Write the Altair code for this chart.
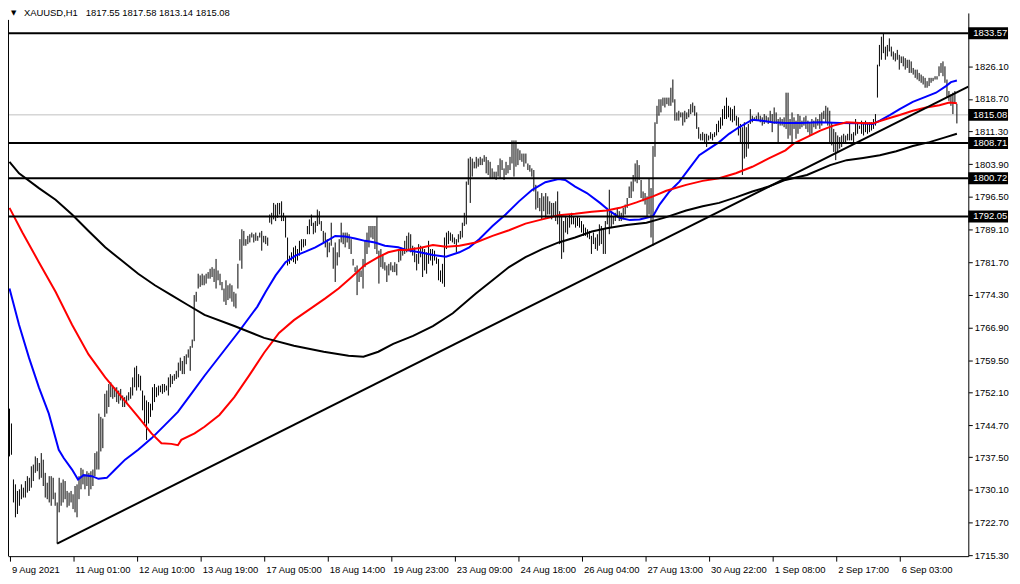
import altair as alt
import pandas as pd

# ---------------- data ----------------
high_seg1 = [1748.50, 1745.14, 1732.46, 1731.34, 1729.85, 1730.22, 1731.34, 1730.59, 1732.09, 1733.20,
             1732.83, 1735.44, 1735.82, 1737.68, 1737.31, 1736.19, 1738.43, 1736.93, 1733.95, 1731.71,
             1733.20, 1733.20, 1732.83, 1729.47, 1727.24, 1732.83, 1731.71, 1732.46, 1732.09, 1729.85,
             1729.47, 1729.85, 1729.10, 1730.97, 1731.34, 1733.20, 1735.07, 1734.70, 1733.58, 1734.32,
             1733.95, 1734.32, 1734.70, 1738.43, 1738.80, 1747.38, 1746.63, 1746.26, 1751.86, 1752.60,
             1754.09, 1754.47, 1753.72, 1753.35, 1753.35, 1752.60, 1752.97, 1751.48, 1751.11, 1751.48,
             1752.23, 1753.35, 1755.58, 1757.82, 1758.20, 1756.33, 1755.96, 1752.60, 1751.48, 1750.36,
             1749.99, 1749.62, 1753.35, 1754.09, 1753.35, 1753.72, 1753.72, 1754.09, 1754.09, 1753.72,
             1755.58, 1756.33, 1755.96, 1756.33, 1757.08, 1758.94, 1760.06, 1759.31, 1760.43, 1760.81,
             1761.93, 1762.67, 1764.16, 1774.24, 1774.98, 1779.08, 1778.71, 1779.08]
low_seg1 = [1737.68, 1738.05, 1727.24, 1723.88, 1724.62, 1726.49, 1727.98, 1728.35, 1728.35, 1729.47,
            1729.85, 1730.59, 1732.09, 1733.95, 1734.32, 1732.46, 1732.83, 1730.97, 1728.35, 1727.98,
            1727.24, 1726.49, 1727.98, 1726.49, 1717.91, 1725.00, 1726.49, 1727.24, 1727.98, 1726.12,
            1726.49, 1727.24, 1725.74, 1725.00, 1723.88, 1727.98, 1730.22, 1731.34, 1730.22, 1730.97,
            1728.73, 1730.22, 1730.97, 1733.20, 1734.70, 1734.70, 1738.80, 1739.55, 1746.63, 1747.38,
            1748.87, 1751.11, 1750.74, 1751.11, 1749.99, 1749.62, 1750.36, 1748.87, 1748.87, 1749.62,
            1750.36, 1750.74, 1751.48, 1753.35, 1752.60, 1753.35, 1752.60, 1748.12, 1745.14, 1741.41,
            1745.14, 1746.63, 1748.12, 1749.99, 1751.11, 1751.48, 1752.23, 1751.86, 1752.23, 1752.60,
            1751.48, 1753.35, 1754.09, 1754.84, 1755.21, 1755.58, 1757.08, 1756.33, 1756.33, 1758.57,
            1760.06, 1757.08, 1762.30, 1763.79, 1772.74, 1775.73, 1776.10, 1776.47]

high_seg2 = [1778.70, 1779.08, 1779.45, 1780.20, 1780.57, 1780.20, 1782.43, 1779.82, 1779.08, 1777.21,
             1775.72, 1777.59, 1776.47, 1776.84, 1776.47, 1774.97, 1774.60, 1781.32, 1786.91, 1789.15,
             1788.78, 1786.91, 1787.66, 1788.03, 1788.40, 1788.03, 1788.40, 1787.66, 1788.40, 1788.78,
             1787.66, 1787.66, 1787.28, 1792.50, 1792.88, 1795.12, 1794.74, 1795.12, 1795.12, 1795.49,
             1792.88, 1792.13, 1787.28, 1783.18, 1783.93, 1785.05, 1785.42, 1784.67, 1786.54, 1786.91,
             1786.91, 1786.91, 1789.89, 1791.39, 1792.50, 1790.64, 1791.01, 1793.62, 1793.25, 1791.01,
             1788.78, 1788.40, 1786.91, 1786.16, 1790.64, 1785.05, 1786.16, 1783.93, 1786.91, 1790.64,
             1788.40, 1788.40, 1788.40, 1788.03, 1786.91, 1782.43, 1780.57, 1780.94, 1779.82, 1779.82,
             1782.43, 1786.54, 1788.40, 1789.89, 1789.89, 1789.89, 1789.89, 1792.13, 1784.30, 1784.67,
             1783.55, 1781.69, 1780.94, 1781.32, 1781.69, 1780.94, 1781.69, 1781.32]
low_seg2 = [1776.47, 1776.84, 1777.96, 1777.96, 1778.33, 1777.21, 1775.72, 1777.59, 1776.47, 1775.35,
            1772.74, 1771.99, 1773.11, 1773.48, 1772.74, 1771.62, 1771.24, 1775.72, 1782.06, 1780.20,
            1785.42, 1785.42, 1785.79, 1786.16, 1787.28, 1786.16, 1786.54, 1786.54, 1787.28, 1784.30,
            1786.16, 1785.79, 1785.42, 1790.64, 1790.27, 1791.39, 1791.01, 1791.76, 1792.50, 1791.01,
            1791.01, 1787.28, 1780.94, 1781.32, 1782.06, 1781.69, 1781.32, 1782.06, 1783.18, 1784.30,
            1785.05, 1785.42, 1788.03, 1788.03, 1789.89, 1788.03, 1788.40, 1789.89, 1790.27, 1788.78,
            1786.16, 1785.05, 1782.81, 1783.93, 1785.42, 1780.20, 1777.21, 1780.94, 1782.81, 1786.16,
            1785.79, 1785.05, 1786.16, 1784.67, 1783.55, 1780.94, 1779.45, 1774.23, 1777.21, 1778.33,
            1775.72, 1780.57, 1783.55, 1785.05, 1787.28, 1786.91, 1784.67, 1783.55, 1776.84, 1780.57,
            1780.20, 1779.82, 1777.21, 1778.70, 1779.82, 1779.45, 1779.45, 1778.70]

high_seg3 = [1784.30, 1785.05, 1784.67, 1786.54, 1787.66, 1788.41, 1788.03, 1785.42, 1785.05, 1783.56,
             1785.79, 1785.42, 1785.05, 1784.67, 1783.93, 1786.54, 1784.67, 1784.67, 1784.30, 1782.81,
             1782.44, 1779.83, 1781.32, 1787.29, 1788.41, 1788.78, 1788.41, 1788.03, 1787.29, 1786.91,
             1788.03, 1788.78, 1790.64, 1792.88, 1799.97, 1805.19, 1805.56, 1805.19, 1804.44, 1805.56,
             1805.19, 1805.56, 1805.19, 1805.94, 1805.56, 1804.82, 1804.44, 1802.95, 1802.21, 1802.21,
             1803.70, 1805.19, 1804.82, 1802.95, 1804.44, 1803.70, 1805.56, 1809.29, 1809.29, 1809.29,
             1807.43, 1807.06, 1806.31, 1806.31, 1806.31, 1804.07, 1803.70, 1802.95, 1802.58, 1799.22,
             1797.73, 1796.24, 1797.36, 1796.61, 1797.36, 1796.61, 1795.49, 1795.12, 1795.12, 1795.49,
             1797.73, 1793.25, 1792.51, 1791.02, 1792.14, 1791.76, 1792.51, 1792.88, 1792.14, 1791.76,
             1792.14, 1791.76, 1791.02, 1790.27, 1789.52, 1789.15, 1788.78, 1787.66]
low_seg3 = [1781.69, 1782.06, 1783.18, 1783.56, 1783.93, 1784.67, 1783.93, 1783.18, 1781.69, 1779.83,
            1781.32, 1782.81, 1778.33, 1779.83, 1779.08, 1781.32, 1782.06, 1780.95, 1782.06, 1781.32,
            1777.59, 1777.22, 1776.84, 1776.10, 1784.67, 1785.79, 1786.54, 1786.17, 1785.79, 1783.93,
            1786.17, 1786.91, 1787.29, 1789.90, 1790.27, 1799.22, 1795.12, 1801.09, 1802.95, 1802.95,
            1803.33, 1803.70, 1803.70, 1804.44, 1801.83, 1801.46, 1800.71, 1800.71, 1800.71, 1800.34,
            1801.09, 1800.71, 1802.58, 1800.34, 1801.46, 1801.83, 1802.58, 1804.07, 1801.09, 1803.33,
            1803.70, 1804.82, 1804.44, 1803.33, 1804.07, 1802.58, 1802.21, 1801.09, 1797.73, 1793.63,
            1794.00, 1793.25, 1791.39, 1793.25, 1791.76, 1792.51, 1792.51, 1791.39, 1792.14, 1791.02,
            1790.27, 1785.79, 1782.44, 1783.93, 1788.41, 1788.03, 1789.52, 1790.27, 1790.27, 1789.52,
            1789.90, 1789.52, 1788.41, 1787.66, 1787.66, 1787.29, 1786.91, 1783.56]

high_seg4 = [1788.41, 1787.29, 1788.03, 1790.27, 1789.90, 1789.15, 1791.02, 1794.00, 1798.11, 1793.26,
             1792.14, 1792.88, 1794.00, 1793.26, 1792.88, 1794.00, 1794.75, 1796.24, 1798.85, 1799.97,
             1801.46, 1804.07, 1804.82, 1803.70, 1800.34, 1797.73, 1797.36, 1796.61, 1800.72, 1798.48,
             1808.00, 1813.40, 1817.13, 1818.62, 1818.62, 1818.99, 1818.99, 1818.99, 1818.99, 1821.23,
             1823.10, 1818.62, 1815.64, 1816.01, 1815.64, 1815.64, 1816.01, 1815.64, 1816.38, 1817.50,
             1817.87, 1817.13, 1815.64, 1812.28, 1810.79, 1811.16, 1810.79, 1810.79, 1810.41, 1811.16,
             1810.79, 1811.16, 1813.03, 1813.77, 1814.52, 1816.38, 1817.13, 1818.99, 1817.13, 1816.76,
             1816.38, 1817.13, 1814.89, 1814.52, 1813.03, 1812.28, 1813.40, 1812.28, 1813.03, 1816.38,
             1814.89, 1814.52, 1814.89, 1815.64, 1814.89, 1814.52, 1815.26, 1814.89, 1814.52, 1816.01,
             1815.26, 1816.76, 1815.64, 1814.14, 1814.52, 1814.14, 1814.52]
low_seg4 = [1785.80, 1784.68, 1784.30, 1785.42, 1785.80, 1783.56, 1783.56, 1790.27, 1788.03, 1789.53,
            1790.27, 1791.02, 1791.76, 1791.02, 1791.02, 1791.39, 1792.51, 1794.00, 1796.24, 1796.24,
            1797.73, 1799.97, 1799.60, 1800.34, 1796.24, 1795.49, 1794.75, 1792.14, 1792.51, 1787.29,
            1785.42, 1805.57, 1813.03, 1814.89, 1815.64, 1817.13, 1816.76, 1817.50, 1817.13, 1817.13,
            1817.87, 1813.77, 1813.77, 1813.77, 1814.52, 1812.65, 1813.40, 1814.14, 1814.52, 1815.26,
            1815.64, 1814.89, 1811.91, 1809.67, 1809.29, 1809.29, 1808.55, 1807.80, 1809.29, 1809.67,
            1809.29, 1810.04, 1810.41, 1811.16, 1811.91, 1812.65, 1814.14, 1814.14, 1814.52, 1813.77,
            1813.40, 1813.77, 1812.65, 1810.41, 1808.92, 1801.46, 1805.19, 1805.57, 1807.43, 1813.03,
            1813.40, 1813.77, 1813.77, 1813.77, 1813.40, 1812.65, 1813.03, 1813.40, 1813.03, 1813.40,
            1811.16, 1813.03, 1813.03, 1808.92, 1812.65, 1812.65, 1812.28]

high_seg5 = [1820.11, 1820.11, 1814.14, 1815.63, 1814.52, 1813.77, 1815.26, 1814.89, 1813.77, 1814.52,
             1814.89, 1813.77, 1813.40, 1814.14, 1813.77, 1814.52, 1814.14, 1815.26, 1815.63, 1816.01,
             1817.13, 1816.75, 1816.01, 1813.40, 1811.90, 1811.16, 1810.41, 1810.04, 1810.41, 1810.79,
             1810.41, 1810.79, 1813.40, 1810.79, 1811.16, 1814.14, 1813.40, 1812.65, 1813.77, 1813.40,
             1813.77, 1813.02, 1813.40, 1813.40, 1814.14, 1815.26, 1826.45, 1830.93, 1832.79, 1833.57,
             1830.55, 1830.93, 1832.42, 1830.55, 1829.44, 1829.06, 1829.81, 1828.69, 1828.32, 1828.32,
             1827.94, 1827.57, 1827.57, 1827.20, 1825.71, 1825.33, 1825.33, 1824.59, 1824.21, 1823.84,
             1823.47, 1822.72, 1823.47, 1823.47, 1823.47, 1823.84, 1823.84, 1826.08, 1826.82, 1827.20,
             1826.08, 1823.09, 1820.48, 1819.74, 1820.11, 1820.48, 1817.58]
low_seg5 = [1811.90, 1809.67, 1810.41, 1808.55, 1811.90, 1809.67, 1810.79, 1811.90, 1812.28, 1812.65,
            1811.90, 1811.16, 1810.41, 1810.79, 1812.28, 1811.90, 1812.65, 1811.90, 1812.65, 1814.14,
            1813.40, 1812.65, 1808.92, 1808.17, 1806.68, 1804.82, 1806.68, 1807.43, 1807.80, 1808.55,
            1808.92, 1809.29, 1809.29, 1809.29, 1808.92, 1810.41, 1810.79, 1811.90, 1810.79, 1810.41,
            1811.16, 1810.79, 1811.16, 1811.53, 1811.90, 1812.65, 1819.00, 1826.08, 1827.57, 1829.06,
            1827.57, 1828.32, 1829.44, 1828.32, 1827.57, 1827.20, 1827.57, 1825.33, 1826.82, 1826.08,
            1825.33, 1825.71, 1824.59, 1824.59, 1824.21, 1823.47, 1823.09, 1822.72, 1822.35, 1821.97,
            1821.23, 1821.23, 1821.60, 1822.35, 1822.72, 1823.09, 1823.09, 1823.84, 1824.59, 1823.84,
            1822.35, 1819.00, 1818.25, 1817.13, 1815.26, 1817.87, 1813.14]

bar_high = high_seg1 + high_seg2 + high_seg3 + high_seg4 + high_seg5
bar_low = low_seg1 + low_seg2 + low_seg3 + low_seg4 + low_seg5

blue_i = [0, 4.8, 9.8, 14.8, 19.8, 24.8, 27.3, 31.5, 34.5, 37.3, 41.5, 44.8, 49, 53.2, 58.2, 64.8,
          71.5, 78.2, 84.8, 91.5, 98.2, 115.7, 124.8, 129, 134, 139, 144, 149, 154, 159, 164, 169,
          174, 179, 184, 189, 195.7, 199.8, 206.5, 213.2, 219.8, 226.5, 231.5, 236.5, 243.2, 249.8,
          256.5, 263.2, 269.8, 276.5, 279.8, 284.8, 290.7, 297.3, 302.3, 307.3, 312.3, 317.3, 324,
          327.3, 332.3, 337.3, 342.3, 347.3, 352.3, 357.3, 362.3, 367.3, 374, 379, 384, 390.7, 398.2,
          408.2, 418.2, 428.2, 434.8, 438.2, 443.2, 448.2, 454.8, 461.5, 466.5, 471.5, 474, 477]
blue_p = [1775.72, 1767.51, 1760.06, 1753.34, 1747.37, 1739.18, 1737.30, 1734.70, 1732.46, 1733.43,
          1733.20, 1732.60, 1732.82, 1734.70, 1736.94, 1739.18, 1741.77, 1744.77, 1747.75, 1751.84,
          1755.96, 1766.10, 1771.63, 1774.98, 1778.70, 1781.70, 1783.18, 1784.07, 1785.06, 1786.31,
          1787.65, 1787.52, 1787.07, 1786.53, 1786.17, 1785.41, 1785.06, 1784.45, 1783.94, 1783.33,
          1782.95, 1783.94, 1785.06, 1786.91, 1789.89, 1792.51, 1795.48, 1798.10, 1799.83, 1800.56,
          1800.34, 1798.84, 1797.36, 1795.13, 1793.25, 1791.77, 1791.23, 1791.39, 1792.13, 1794.74,
          1797.72, 1799.96, 1802.96, 1805.93, 1807.43, 1808.91, 1810.79, 1812.27, 1813.99, 1813.77,
          1813.39, 1813.25, 1813.25, 1813.39, 1813.25, 1813.16, 1813.03, 1813.77, 1815.04, 1816.39,
          1818.02, 1819.21, 1820.10, 1821.60, 1822.50, 1822.88]

red_i = [0, 6.5, 14.8, 23.2, 31.5, 39.8, 48.2, 56.5, 64.8, 71.5, 76.5, 81.5, 84.8, 86.5, 93.2, 98.2,
         105.7, 113.2, 120.7, 128.2, 135.7, 143.2, 152.3, 159, 165.7, 172.3, 179, 185.7, 190.7, 195.7,
         199.8, 206.5, 213.2, 219.8, 226.5, 234.8, 243.2, 251.5, 259.8, 268.2, 276.5, 284.8, 293.2,
         300.7, 307.3, 315.7, 324, 330.7, 340.7, 349, 357.3, 365.7, 374, 382.3, 390.7, 394.8, 401.5,
         408.2, 414.8, 421.5, 428.2, 434.8, 441.5, 448.2, 454.8, 461.5, 468.2, 473.2, 477]
red_p = [1794.01, 1788.41, 1781.70, 1774.98, 1767.51, 1760.80, 1755.58, 1751.11, 1746.63, 1742.89,
         1740.66, 1740.52, 1740.21, 1741.42, 1742.89, 1744.39, 1747.08, 1751.11, 1756.03, 1761.18,
         1765.65, 1768.56, 1771.40, 1773.49, 1775.72, 1778.34, 1781.09, 1782.82, 1783.94, 1784.45,
         1784.45, 1784.90, 1785.57, 1785.19, 1785.41, 1786.17, 1787.65, 1788.93, 1790.43, 1791.39,
         1792.35, 1792.66, 1793.11, 1793.40, 1794.01, 1795.26, 1796.60, 1797.88, 1799.22, 1800.12,
         1800.72, 1801.84, 1803.32, 1805.20, 1807.05, 1808.55, 1810.03, 1811.53, 1812.65, 1813.39,
         1813.25, 1813.16, 1814.15, 1815.04, 1816.01, 1816.74, 1817.28, 1817.86, 1817.73]

black_i = [0, 4.8, 14.8, 23.2, 31.5, 39.8, 48.2, 56.5, 64.8, 73.2, 81.5, 89.8, 98.2, 113.2, 128.2,
           143.2, 158.2, 170.7, 178.2, 185.7, 193.2, 203.2, 213.2, 223.2, 234.8, 243.2, 251.5, 259.8,
           268.2, 276.5, 284.8, 293.2, 300.7, 310.7, 320.7, 330.7, 340.7, 349, 357.3, 365.7, 374,
           382.3, 390.7, 401.5, 413.2, 421.5, 429.8, 438.2, 446.5, 454.8, 463.2, 471.5, 477]
black_p = [1804.44, 1801.84, 1798.48, 1795.86, 1792.51, 1788.77, 1785.06, 1782.06, 1779.08, 1776.46,
           1774.22, 1771.99, 1769.75, 1767.22, 1764.53, 1762.74, 1761.40, 1760.51, 1760.28, 1761.40,
           1763.19, 1764.98, 1767.22, 1770.13, 1774.60, 1777.58, 1780.58, 1782.82, 1784.67, 1786.17,
           1787.29, 1788.64, 1789.37, 1790.11, 1790.65, 1791.90, 1793.40, 1794.37, 1795.13, 1796.38,
           1797.72, 1798.84, 1800.34, 1801.46, 1803.70, 1804.82, 1805.33, 1805.93, 1806.83, 1808.02,
           1808.91, 1810.03, 1810.79]

trend_i = [24, 482.75]
trend_p = [1717.91, 1821.50]

levels = [1833.57, 1808.71, 1800.72, 1792.05]
current_price = 1815.08

price_ticks = [1826.10, 1818.70, 1811.30, 1803.90, 1796.50, 1789.10, 1781.70, 1774.30, 1766.90,
               1759.50, 1752.10, 1744.70, 1737.50, 1730.10, 1722.70, 1715.30]
time_pos = [0, 32, 64, 96, 128, 160, 192, 224, 256, 288, 320, 352, 384, 416, 448]
time_labels = ["9 Aug 2021", "11 Aug 01:00", "12 Aug 10:00", "13 Aug 19:00", "17 Aug 05:00",
               "18 Aug 14:00", "19 Aug 23:00", "23 Aug 09:00", "24 Aug 18:00", "26 Aug 04:00",
               "27 Aug 13:00", "30 Aug 22:00", "1 Sep 08:00", "2 Sep 17:00", "6 Sep 03:00"]
title_text = "XAUUSD,H1\u00a0\u00a0 1817.55 1817.58 1813.14 1815.08"

# ---------------- chart ----------------
W, H = 967, 547
FONT = "Liberation Sans"

xs = alt.Scale(domain=[-0.75, 482.75], zero=False, nice=False)
ys = alt.Scale(domain=[1715.07, 1838.18], zero=False, nice=False)

label_arr = "[" + ",".join("'%s'" % t for t in time_labels) + "]"
xaxis = alt.Axis(orient="bottom", values=time_pos, labelExpr=label_arr + "[round(datum.value/32)]",
                 tickSize=5, labelAlign="left", labelOffset=2, labelPadding=3, labelFlush=False,
                 labelOverlap=False, grid=False, title=None, domainColor="black", tickColor="black",
                 labelColor="black", labelFont=FONT, labelFontSize=9.5, domainWidth=1)
yaxis = alt.Axis(orient="right", values=price_ticks, format=".2f", tickSize=4, labelPadding=2,
                 labelFlush=False, labelOverlap=False, grid=False, title=None, domainColor="black",
                 tickColor="black", labelColor="black", labelFont=FONT, labelFontSize=9.5)

bars_df = pd.DataFrame({"i": list(range(len(bar_high))), "high": bar_high, "low": bar_low})
X = alt.X("i:Q", scale=xs, axis=xaxis)

cur = alt.Chart(pd.DataFrame({"p": [current_price]})).mark_rule(color="#c0c0c0", strokeWidth=1).encode(
    y=alt.Y("p:Q", scale=ys, axis=yaxis))

bars = alt.Chart(bars_df).mark_rule(color="black", strokeWidth=1).encode(
    x=X, y=alt.Y("low:Q", scale=ys, axis=yaxis), y2="high:Q")


def ma(ii, pp, color):
    return alt.Chart(pd.DataFrame({"i": ii, "p": pp})).mark_line(color=color, strokeWidth=2).encode(
        x=X, y=alt.Y("p:Q", scale=ys, axis=yaxis))


blue = ma(blue_i, blue_p, "#0000ff")
red = ma(red_i, red_p, "#ff0000")
black = ma(black_i, black_p, "black")

hl = alt.Chart(pd.DataFrame({"p": levels})).mark_rule(color="black", strokeWidth=2).encode(
    y=alt.Y("p:Q", scale=ys, axis=yaxis))

trend = alt.Chart(pd.DataFrame({"i": trend_i, "p": trend_p})).mark_line(
    color="black", strokeWidth=2, clip=True).encode(x=X, y=alt.Y("p:Q", scale=ys, axis=yaxis))

border = alt.Chart(pd.DataFrame({"a": [0]})).mark_rule(color="black", strokeWidth=1).encode(
    x=alt.value(0.5), y=alt.value(7), y2=alt.value(H))

box_df = pd.DataFrame({"p": levels + [current_price],
                       "t": ["%.2f" % v for v in levels + [current_price]]})
boxes = alt.Chart(box_df).mark_tick(orient="horizontal", color="black", thickness=12, size=40,
                                    opacity=1).encode(
    x=alt.value(W + 20), y=alt.Y("p:Q", scale=ys, axis=yaxis))
box_text = alt.Chart(box_df).mark_text(color="white", font=FONT, fontSize=9.5, align="left",
                                       baseline="middle").encode(
    x=alt.value(W + 5), y=alt.Y("p:Q", scale=ys, axis=yaxis), text="t:N")

tri = alt.Chart(pd.DataFrame({"t": ["\u25bc"]})).mark_text(
    color="black", fontSize=7, align="left", baseline="middle", font="DejaVu Sans").encode(
    x=alt.value(3), y=alt.value(0), text="t:N")
ttl = alt.Chart(pd.DataFrame({"t": [title_text]})).mark_text(
    color="black", font=FONT, fontSize=9.5, align="left", baseline="middle").encode(
    x=alt.value(16), y=alt.value(0), text="t:N")

chart = alt.layer(cur, bars, blue, red, black, hl, trend, border, boxes, box_text, tri, ttl).properties(
    width=W, height=H,
    autosize=alt.AutoSizeParams(type="none"),
    padding={"left": 0, "top": 3, "right": 44, "bottom": 18},
    background="white",
).configure_view(stroke=None)

chart.save("out.html", embed_options={"renderer": "svg", "actions": False})
